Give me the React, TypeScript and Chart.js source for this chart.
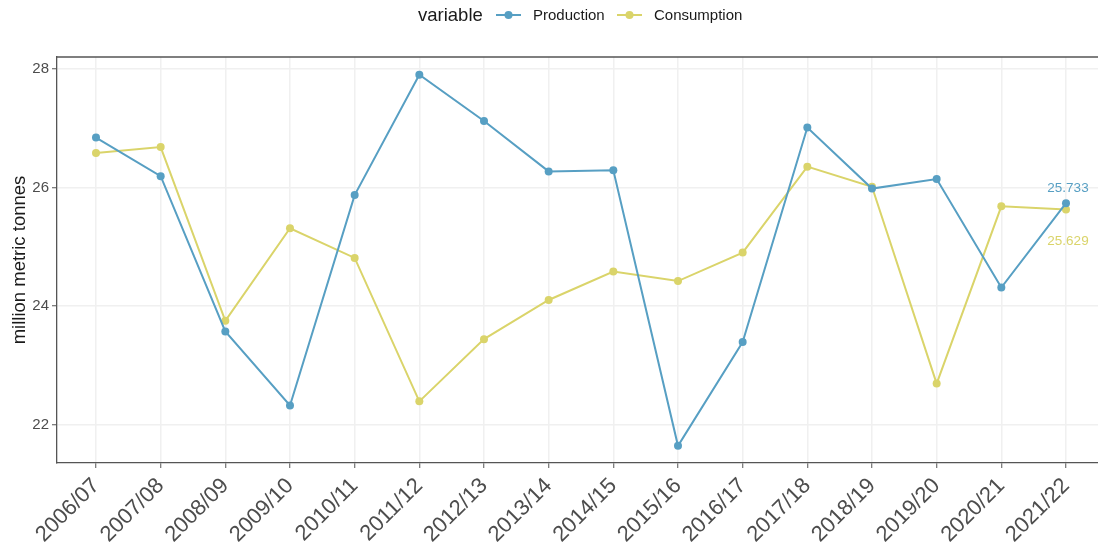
import React, { useEffect, useRef } from 'react';
import { Chart, registerables } from 'chart.js';

Chart.register(...registerables);

const seasons = ['2006/07', '2007/08', '2008/09', '2009/10', '2010/11', '2011/12', '2012/13', '2013/14', '2014/15', '2015/16', '2016/17', '2017/18', '2018/19', '2019/20', '2020/21', '2021/22'];
const production = [26.84, 26.19, 23.57, 22.32, 25.87, 27.9, 27.12, 26.27, 26.29, 21.64, 23.39, 27.01, 25.98, 26.14, 24.31, 25.733];
const consumption = [26.58, 26.68, 23.75, 25.31, 24.81, 22.39, 23.44, 24.1, 24.58, 24.42, 24.9, 26.35, 26.01, 22.69, 25.68, 25.629];
const yTicks = [22, 24, 26, 28];
const seriesNames = ['Production', 'Consumption'];
const legendTitle = 'variable';
const yTitle = 'million metric tonnes';

const BLUE = '#579FC3';
const YELLOW = '#DAD46A';
const AXIS = '#555555';
const GRID = '#F0F0F0';
const FONT = '"Liberation Sans", Arial, Helvetica, sans-serif';

const X_MIN = -0.603;
const X_MAX = 15.495;
const Y_MIN = 21.35;
const Y_MAX = 28.2;

const extras = {
  id: 'extras',
  afterDraw(chart: any) {
    const { ctx, chartArea, scales } = chart;
    ctx.save();
    // top border of panel
    ctx.strokeStyle = AXIS;
    ctx.lineWidth = 1.3;
    ctx.beginPath();
    ctx.moveTo(chartArea.left, chartArea.top);
    ctx.lineTo(chartArea.right, chartArea.top);
    ctx.stroke();

    // legend
    ctx.textBaseline = 'middle';
    ctx.textAlign = 'left';
    ctx.fillStyle = '#1a1a1a';
    ctx.font = `18.5px ${FONT}`;
    ctx.fillText(legendTitle, 418, 16);
    const items = [
      { name: seriesNames[0], color: BLUE, x: 496 },
      { name: seriesNames[1], color: YELLOW, x: 617 },
    ];
    ctx.font = `15px ${FONT}`;
    for (const it of items) {
      ctx.strokeStyle = it.color;
      ctx.lineWidth = 2;
      ctx.beginPath();
      ctx.moveTo(it.x, 15);
      ctx.lineTo(it.x + 25, 15);
      ctx.stroke();
      ctx.fillStyle = it.color;
      ctx.beginPath();
      ctx.arc(it.x + 12.5, 15, 4, 0, Math.PI * 2);
      ctx.fill();
      ctx.fillStyle = '#1a1a1a';
      ctx.fillText(it.name, it.x + 37, 16);
    }

    // end labels
    const last = seasons.length - 1;
    const xs = scales.x.getPixelForValue(last);
    ctx.textAlign = 'center';
    ctx.font = `13.5px ${FONT}`;
    const pv = production[last];
    const cv = consumption[last];
    ctx.fillStyle = BLUE;
    ctx.fillText(pv.toFixed(3), xs + 2, scales.y.getPixelForValue(pv) - 15);
    ctx.fillStyle = YELLOW;
    ctx.fillText(cv.toFixed(3), xs + 2, scales.y.getPixelForValue(cv) + 32);
    ctx.restore();
  },
};

export default function App() {
  const ref = useRef<HTMLCanvasElement | null>(null);
  useEffect(() => {
    if (!ref.current) return;
    const chart = new Chart(ref.current, {
      type: 'line',
      data: {
        datasets: [
          {
            label: seriesNames[0],
            data: production.map((v, i) => ({ x: i, y: v })),
            borderColor: BLUE,
            backgroundColor: BLUE,
            pointBackgroundColor: BLUE,
            pointBorderWidth: 0,
            pointRadius: 4,
            borderWidth: 2,
            tension: 0,
          },
          {
            label: seriesNames[1],
            data: consumption.map((v, i) => ({ x: i, y: v })),
            borderColor: YELLOW,
            backgroundColor: YELLOW,
            pointBackgroundColor: YELLOW,
            pointBorderWidth: 0,
            pointRadius: 4,
            borderWidth: 2,
            tension: 0,
          },
        ],
      },
      options: {
        animation: false,
        responsive: true,
        maintainAspectRatio: false,
        layout: { autoPadding: false, padding: { top: 57, left: 0, right: 0, bottom: 0 } },
        plugins: { legend: { display: false }, tooltip: { enabled: false } },
        scales: {
          x: {
            type: 'linear',
            min: X_MIN,
            max: X_MAX,
            afterBuildTicks: (s: any) => {
              s.ticks = seasons.map((_, i) => ({ value: i }));
            },
            afterFit: (s: any) => {
              s.height = 87;
              s.paddingLeft = 0;
              s.paddingRight = 0;
            },
            ticks: {
              autoSkip: false,
              maxRotation: 45,
              minRotation: 45,
              padding: 5,
              color: '#4d4d4d',
              font: { family: FONT, size: 22 },
              callback: (_v: any, i: number) => seasons[i] ?? '',
            },
            grid: { color: GRID, lineWidth: 1.5, tickColor: AXIS, tickLength: 5, tickWidth: 1 },
            border: { display: true, color: AXIS, width: 1.3 },
          },
          y: {
            type: 'linear',
            min: Y_MIN,
            max: Y_MAX,
            afterBuildTicks: (s: any) => {
              s.ticks = yTicks.map((v) => ({ value: v }));
            },
            afterFit: (s: any) => {
              s.width = 57;
            },
            ticks: {
              padding: 3,
              color: '#4d4d4d',
              font: { family: FONT, size: 15 },
            },
            grid: { color: GRID, lineWidth: 1.5, tickColor: AXIS, tickLength: 5, tickWidth: 1 },
            border: { display: true, color: AXIS, width: 1.3 },
            title: {
              display: true,
              text: yTitle,
              color: '#1a1a1a',
              font: { family: FONT, size: 18.5 },
              padding: { top: 9, bottom: 0 },
            },
          },
        },
      },
      plugins: [extras],
    });
    return () => chart.destroy();
  }, []);
  return (
    <div style={{ position: 'absolute', left: 0, top: 0, width: 1098, height: 550 }}>
      <canvas ref={ref} />
    </div>
  );
}
